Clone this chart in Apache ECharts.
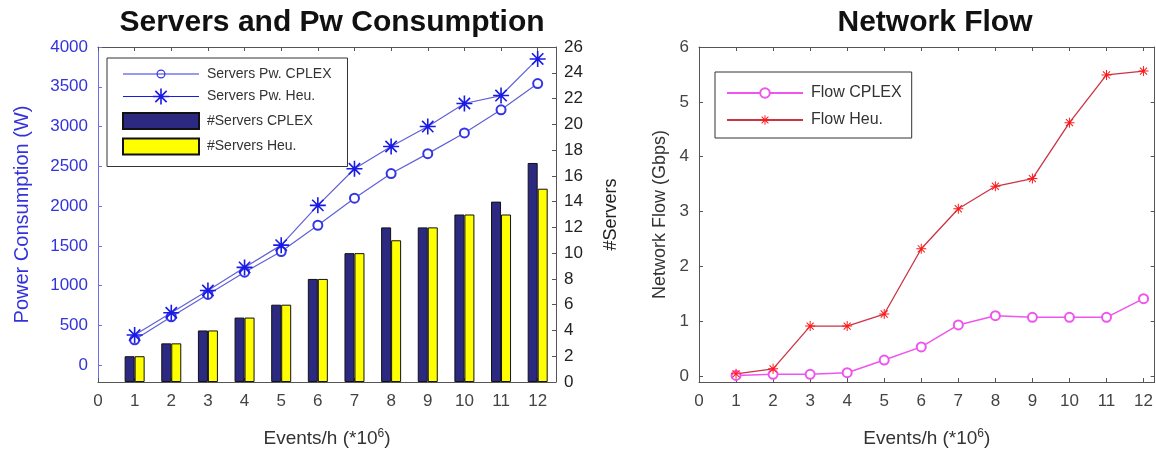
<!DOCTYPE html>
<html>
<head>
<meta charset="utf-8">
<script src="https://cdn.jsdelivr.net/npm/echarts@6/dist/echarts.min.js"></script>
<style>
html, body { margin: 0; padding: 0; background: #fff; }
#main { width: 1156px; height: 454px; }
</style>
</head>
<body>
<div id="main"></div>
<script>
// data
var events = [1, 2, 3, 4, 5, 6, 7, 8, 9, 10, 11, 12];
var pwCplex = [320, 610, 890, 1170, 1430, 1760, 2100, 2410, 2660, 2920, 3210, 3540];
var pwHeu = [380, 660, 940, 1230, 1510, 2010, 2470, 2750, 3000, 3290, 3390, 3850];
var srvCplex = [2, 3, 4, 5, 6, 8, 10, 12, 12, 13, 14, 17];
var srvHeu = [2, 3, 4, 5, 6, 8, 10, 11, 12, 13, 13, 15];
var flowCplex = [0.01, 0.03, 0.03, 0.06, 0.29, 0.53, 0.93, 1.1, 1.07, 1.07, 1.07, 1.41];
var flowHeu = [0.04, 0.13, 0.91, 0.91, 1.13, 2.32, 3.05, 3.46, 3.6, 4.62, 5.49, 5.56];

var xTicks = [0, 1, 2, 3, 4, 5, 6, 7, 8, 9, 10, 11, 12];
var pwTicks = [0, 500, 1000, 1500, 2000, 2500, 3000, 3500, 4000];
var flowTicks = [0, 1, 2, 3, 4, 5, 6];

function pairs(ys) {
    return events.map(function (x, i) { return [x, ys[i]]; });
}

// matlab '*' marker
var star = 'path://M-1,-10L1,-10L1,10L-1,10Z M-10,-1L10,-1L10,1L-10,1Z' +
    ' M-6.36,-7.78L7.78,6.36L6.36,7.78L-7.78,-6.36Z' +
    ' M6.36,-7.78L7.78,-6.36L-6.36,7.78L-7.78,6.36Z';

// legend icons: line with marker, drawn in a 76 wide box
var circIcon = 'path://M0,3.9L76,3.9L76,5.1L0,5.1Z' +
    ' M42.5,4.5A4.5,4.5 0 1 1 33.5,4.5A4.5,4.5 0 1 1 42.5,4.5Z' +
    ' M41.3,4.5A3.3,3.3 0 1 0 34.7,4.5A3.3,3.3 0 1 0 41.3,4.5Z';
var starIcon = 'path://M0,7.4L76,7.4L76,8.6L0,8.6Z' +
    ' M37.2,0L38.8,0L38.8,16L37.2,16Z M30,7.2L46,7.2L46,8.8L30,8.8Z' +
    ' M32.91,1.77L44.23,13.09L43.09,14.23L31.77,2.91Z' +
    ' M43.09,1.77L44.23,2.91L32.91,14.23L31.77,13.09Z';

var font = 'Liberation Sans, Arial, sans-serif';
var gray = '#555';

function boxAxis(grid, pos, min, max, ticks) {
    return {
        gridIndex: grid, type: 'value', position: pos, min: min, max: max,
        axisLine: {show: true, onZero: false, lineStyle: {color: gray}},
        axisTick: {show: true, inside: true, length: 4, customValues: ticks, lineStyle: {color: gray}},
        axisLabel: {show: false},
        splitLine: {show: false}
    };
}

var xName = '{a|Events/h (*10}{s|6}{a|)}';
var xNameStyle = {
    rich: {
        a: {fontSize: 19, color: '#333', fontFamily: font, lineHeight: 22},
        s: {fontSize: 12, color: '#333', fontFamily: font, verticalAlign: 'top', lineHeight: 12}
    }
};

var option = {
    animation: false,
    textStyle: {fontFamily: font},
    title: [
        {text: 'Servers and Pw Consumption', left: 327, top: 3, textAlign: 'center',
            textStyle: {fontSize: 30, fontWeight: 'bold', color: '#111'}},
        {text: 'Network Flow', left: 930, top: 3, textAlign: 'center',
            textStyle: {fontSize: 30, fontWeight: 'bold', color: '#111'}}
    ],
    legend: [
        {
            orient: 'vertical', left: 107, top: 58,
            data: [
                {name: 'Servers Pw. CPLEX', icon: circIcon, itemStyle: {borderWidth: 0}},
                {name: 'Servers Pw. Heu.', icon: starIcon, itemStyle: {borderWidth: 0}},
                {name: '#Servers CPLEX', icon: 'rect'},
                {name: '#Servers Heu.', icon: 'rect'}
            ],
            itemWidth: 76, itemHeight: 16, itemGap: 7.5,
            padding: [9, 16, 11, 15],
            borderColor: '#333', borderWidth: 1,
            textStyle: {fontSize: 14, color: '#333', padding: [0, 0, 0, 3]}
        },
        {
            orient: 'vertical', left: 715, top: 72,
            data: ['Flow CPLEX', 'Flow Heu.'],
            itemWidth: 76, itemHeight: 12, itemGap: 11,
            padding: [13, 10, 10, 11],
            borderColor: '#333', borderWidth: 1,
            textStyle: {fontSize: 16, color: '#333', padding: [0, 0, 0, 3]}
        }
    ],
    grid: [
        {left: 98, top: 47, width: 458, height: 335},
        {left: 699, top: 47, width: 458, height: 335}
    ],
    xAxis: [
        {
            gridIndex: 0, type: 'value', min: 0, max: 12.5,
            name: xName, nameLocation: 'middle', nameGap: 46, nameTextStyle: xNameStyle,
            axisLine: {onZero: false, lineStyle: {color: gray}},
            axisTick: {inside: true, length: 4, customValues: xTicks, lineStyle: {color: gray}},
            axisLabel: {customValues: xTicks, fontSize: 17, color: '#444', margin: 11},
            splitLine: {show: false}
        },
        boxAxis(0, 'top', 0, 12.5, xTicks),
        {
            gridIndex: 1, type: 'value', min: 0, max: 12.3,
            name: xName, nameLocation: 'middle', nameGap: 46, nameTextStyle: xNameStyle,
            axisLine: {onZero: false, lineStyle: {color: gray}},
            axisTick: {inside: true, length: 4, customValues: xTicks, lineStyle: {color: gray}},
            axisLabel: {customValues: xTicks, fontSize: 17, color: '#444', margin: 11},
            splitLine: {show: false}
        },
        boxAxis(1, 'top', 0, 12.3, xTicks)
    ],
    yAxis: [
        {
            gridIndex: 0, type: 'value', position: 'left', min: -210, max: 4000,
            name: 'Power Consumption (W)', nameLocation: 'middle', nameGap: 66,
            nameTextStyle: {fontSize: 20, color: '#3333dd'},
            axisLine: {show: true, onZero: false, lineStyle: {color: '#6f6ff0'}},
            axisTick: {show: true, inside: true, length: 4, customValues: pwTicks, lineStyle: {color: '#6f6ff0'}},
            axisLabel: {customValues: pwTicks, fontSize: 17, color: '#3333dd', margin: 10,
                formatter: function (v) { return String(v); }},
            splitLine: {show: false}
        },
        {
            gridIndex: 0, type: 'value', position: 'right', min: 0, max: 26, interval: 2,
            name: '#Servers', nameLocation: 'middle', nameGap: 46,
            nameTextStyle: {fontSize: 18, color: '#222'},
            axisLine: {show: true, onZero: false, lineStyle: {color: gray}},
            axisTick: {show: true, inside: true, length: 4, lineStyle: {color: gray}},
            axisLabel: {fontSize: 17, color: '#222', margin: 8},
            splitLine: {show: false}
        },
        {
            gridIndex: 1, type: 'value', position: 'left', min: -0.11, max: 6,
            name: 'Network Flow (Gbps)', nameLocation: 'middle', nameGap: 30,
            nameTextStyle: {fontSize: 18, color: '#333'},
            axisLine: {show: true, onZero: false, lineStyle: {color: gray}},
            axisTick: {show: true, inside: true, length: 4, customValues: flowTicks, lineStyle: {color: gray}},
            axisLabel: {customValues: flowTicks, fontSize: 17, color: '#444', margin: 10},
            splitLine: {show: false}
        },
        boxAxis(1, 'right', -0.11, 6, flowTicks)
    ],
    series: [
        {
            name: '#Servers CPLEX', type: 'bar', xAxisIndex: 0, yAxisIndex: 1,
            data: pairs(srvCplex), barWidth: 10, barGap: '0%',
            itemStyle: {color: '#2c2a80', borderColor: '#111', borderWidth: 1}
        },
        {
            name: '#Servers Heu.', type: 'bar', xAxisIndex: 0, yAxisIndex: 1,
            data: pairs(srvHeu), barWidth: 10, barGap: '0%',
            itemStyle: {color: '#ffff00', borderColor: '#111', borderWidth: 1}
        },
        {
            name: 'Servers Pw. CPLEX', type: 'line', xAxisIndex: 0, yAxisIndex: 0,
            data: pairs(pwCplex), symbol: 'emptyCircle', symbolSize: 9, z: 5,
            lineStyle: {color: '#6060d8', width: 1.2},
            itemStyle: {color: '#3535e8', borderColor: '#3535e8', borderWidth: 1.2}
        },
        {
            name: 'Servers Pw. Heu.', type: 'line', xAxisIndex: 0, yAxisIndex: 0,
            data: pairs(pwHeu), symbol: star, symbolSize: 16, z: 5,
            lineStyle: {color: '#6060d8', width: 1.2},
            itemStyle: {color: '#1a1ae6'}
        },
        {
            name: 'Flow CPLEX', type: 'line', xAxisIndex: 2, yAxisIndex: 2,
            data: pairs(flowCplex), symbol: 'emptyCircle', symbolSize: 9,
            lineStyle: {color: '#ee55ee', width: 1.5},
            itemStyle: {color: '#ee55ee', borderColor: '#ee55ee', borderWidth: 1.2}
        },
        {
            name: 'Flow Heu.', type: 'line', xAxisIndex: 2, yAxisIndex: 2,
            data: pairs(flowHeu), symbol: star, symbolSize: 10,
            lineStyle: {color: '#cc3344', width: 1.3},
            itemStyle: {color: '#ff1a1a'}
        }
    ]
};

echarts.init(document.getElementById('main')).setOption(option);
</script>
</body>
</html>
